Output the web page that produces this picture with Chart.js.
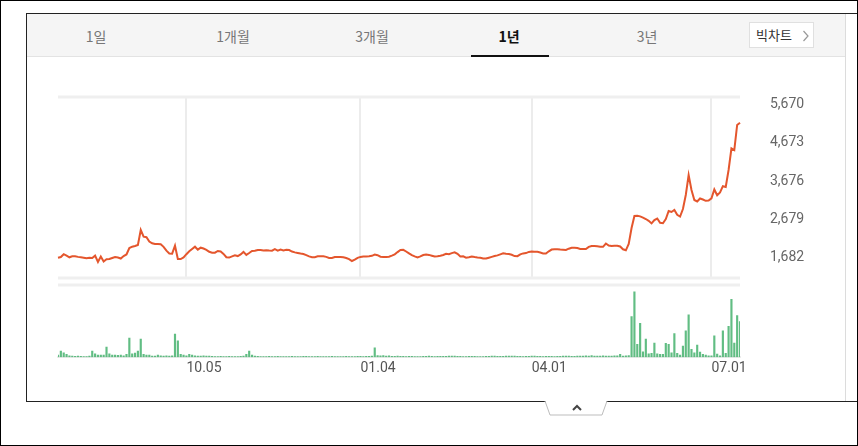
<!DOCTYPE html>
<html>
<head>
<meta charset="utf-8">
<script src="https://cdn.jsdelivr.net/npm/chart.js@4.4.0/dist/chart.umd.min.js"></script>
<style>
  html, body { margin: 0; padding: 0; background: #fff; }
  #wrap { position: relative; width: 858px; height: 446px; overflow: hidden; font-family: "Noto Sans CJK KR", "Noto Sans", sans-serif; }
  .abs { position: absolute; }
  #outer { left: 0; top: 0; width: 858px; height: 446px; box-sizing: border-box; border: 1px solid #000; pointer-events: none; z-index: 5; }
  #panel { left: 26px; top: 13px; width: 832px; height: 389px; box-sizing: border-box; border-top: 1px solid #222; border-left: 1px solid #222; border-bottom: 1px solid #222; }
  #head { left: 27px; top: 14px; width: 818px; height: 42px; background: #f5f5f5; border-bottom: 1px solid #e3e3e3; }
  #rline { left: 845px; top: 14px; width: 1px; height: 387px; background: #dcdcdc; }
  .tab { top: 26px; font-size: 14px; color: #777; transform: translateX(-50%); white-space: nowrap; line-height: 20px; }
  .tab.on { color: #111; font-weight: bold; }
  #bar { left: 471px; top: 55px; width: 78px; height: 2px; background: #111; }
  #big { left: 749px; top: 22px; width: 65px; height: 26px; box-sizing: border-box; background: #fff; border: 1px solid #e0e0e0; font-size: 13px; color: #333; line-height: 24px; padding-left: 6px; }
  #big svg { position: absolute; left: 52px; top: 7px; }
  canvas { position: absolute; }
</style>
</head>
<body>
<div id="wrap">
  <div id="panel" class="abs"></div>
  <div id="head" class="abs"></div>
  <div id="rline" class="abs"></div>
  <div id="tabs"></div>
  <div id="bar" class="abs"></div>
  <div id="big" class="abs">빅차트<svg width="8" height="12"><polyline points="1.5,1 6,6 1.5,11" fill="none" stroke="#999" stroke-width="1.2"/></svg></div>
  <canvas id="price" width="818" height="204" style="left:27px;top:80px;width:818px;height:204px"></canvas>
  <canvas id="volume" width="818" height="110" style="left:27px;top:280px;width:818px;height:110px"></canvas>
  <svg class="abs" style="left:540px;top:400px" width="72" height="18">
    <polygon points="5,0 10,15 62,15 67,0" fill="#fff"/>
    <polyline points="5,1 10,15 62,15 67,1" fill="none" stroke="#bdbdbd" stroke-width="1"/>
    <polyline points="33,10 37,6 41,10" fill="none" stroke="#444" stroke-width="2"/>
  </svg>
  <div id="outer" class="abs"></div>
</div>
<script>
// tabs
const tabNames = ["1일", "1개월", "3개월", "1년", "3년"]
const tabX = [96, 233, 372, 509, 647]
const activeTab = "1년"

// trading days, Jul 28 2020 .. Jul 15 2021 (KRX holidays skipped)
const holidays = ["2020-08-17", "2020-09-30", "2020-10-01", "2020-10-02", "2020-10-09",
  "2020-12-25", "2020-12-31", "2021-01-01", "2021-02-11", "2021-02-12", "2021-03-01",
  "2021-05-05", "2021-05-19"]
const firstDay = "2020-07-28"
const lastDay = "2021-07-15"

const tickDates = ["10.05", "01.04", "04.01", "07.01"]
const priceTicks = [1682, 2679, 3676, 4673, 5670]

// closing price
const prices = [
  1630, 1648, 1721, 1682, 1640, 1666, 1669, 1651, 1640, 1630,
  1614, 1627, 1620, 1682, 1518, 1661, 1531, 1588, 1596, 1622,
  1648, 1635, 1609, 1674, 1713, 1882, 1916, 1934, 1960, 2350,
  2176, 2163, 2051, 2004, 1986, 1986, 1981, 1913, 1812, 1739,
  1734, 1942, 1596, 1596, 1638, 1721, 1796, 1856, 1916, 1838,
  1890, 1869, 1835, 1783, 1760, 1760, 1804, 1791, 1729, 1643,
  1633, 1664, 1692, 1672, 1716, 1781, 1703, 1752, 1804, 1809,
  1830, 1830, 1815, 1825, 1815, 1812, 1851, 1815, 1843, 1820,
  1838, 1828, 1789, 1768, 1752, 1737, 1724, 1698, 1664, 1640,
  1643, 1666, 1666, 1666, 1651, 1625, 1622, 1648, 1648, 1646,
  1640, 1622, 1591, 1544, 1578, 1627, 1651, 1659, 1664, 1669,
  1679, 1711, 1695, 1656, 1648, 1651, 1656, 1685, 1718, 1776,
  1830, 1835, 1791, 1742, 1695, 1664, 1635, 1664, 1698, 1713,
  1703, 1682, 1659, 1669, 1682, 1700, 1731, 1721, 1750,
  1770, 1731, 1659, 1664, 1630, 1640, 1659, 1646, 1635, 1630,
  1609, 1607, 1630, 1651, 1672, 1690, 1716, 1742, 1731, 1724,
  1705, 1672, 1669, 1718, 1742, 1750, 1780, 1788, 1786, 1783,
  1763, 1742, 1737, 1796, 1841, 1851, 1851, 1841, 1835, 1830,
  1864, 1890, 1890, 1882, 1859, 1856, 1856, 1911, 1934, 1934,
  1926, 1913, 1913, 1999, 1947, 1934, 1942, 1942, 1921, 1848,
  1822, 1986, 2402, 2714, 2722, 2704, 2673, 2636, 2589, 2522,
  2608, 2649, 2537, 2527, 2636, 2844, 2818, 2870, 2745, 2701,
  2896, 3260, 3780, 3390, 3130, 3091, 3169, 3143, 3109, 3115,
  3174, 3403, 3252, 3325, 3489, 3468, 3910, 4474, 4430, 5080, 5140
]

// volume (thousand shares)
const volumes = [
  200, 600, 430, 270, 130, 100, 90, 100, 80, 70,
  70, 100, 600, 330, 200, 200, 200, 1000, 330, 200,
  200, 180, 200, 130, 270, 1870, 330, 400, 600, 1770,
  270, 200, 200, 100, 100, 200, 130, 120, 130, 110,
  130, 2270, 1600, 270, 200, 130, 270, 200, 130, 100,
  100, 130, 100, 100, 80, 70, 60, 80, 70, 60,
  80, 70, 60, 70, 80, 100, 270, 600, 200, 100,
  80, 70, 60, 70, 80, 60, 70, 80, 70, 60,
  60, 70, 80, 70, 60, 70, 80, 90, 70, 60,
  70, 80, 70, 60, 60, 70, 80, 70, 60, 70,
  60, 80, 70, 60, 70, 80, 90, 70, 80, 90,
  100, 930, 150, 130, 150, 100, 130, 90, 80, 100,
  90, 80, 70, 80, 90, 70, 60, 70, 80, 90,
  100, 80, 70, 80, 90, 80, 90, 100, 120,
  110, 90, 80, 70, 70, 80, 90, 80, 70, 60,
  70, 80, 90, 100, 110, 90, 80, 90, 100, 120,
  110, 100, 90, 80, 70, 80, 90, 100, 110, 90,
  80, 70, 80, 90, 80, 70, 80, 90, 100, 110,
  100, 90, 80, 100, 120, 110, 130, 120, 150, 110,
  100, 120, 130, 110, 100, 120, 130, 140, 270, 100,
  130, 170, 4000, 6430, 1270, 3330, 530, 1770, 330, 370,
  1400, 330, 270, 270, 1370, 1270, 430, 2330, 370, 200,
  1100, 2600, 4170, 770, 430, 1200, 500, 270, 200, 130,
  130, 2100, 300, 130, 2600, 370, 3030, 5700, 1400, 4100, 3500
]

function tradingDays(from, to, skip) {
  const out = []
  const d = new Date(from + "T00:00:00Z")
  const end = new Date(to + "T00:00:00Z")
  while (d <= end) {
    const iso = d.toISOString().slice(0, 10)
    const wd = d.getUTCDay()
    if (wd !== 0 && wd !== 6 && skip.indexOf(iso) < 0) {
      out.push(iso.slice(5, 7) + "." + iso.slice(8, 10))
    }
    d.setUTCDate(d.getUTCDate() + 1)
  }
  return out
}
const dates = tradingDays(firstDay, lastDay, holidays)

// header tabs
const tabBox = document.getElementById("tabs")
tabNames.forEach(function (t, i) {
  const s = document.createElement("div")
  s.className = "abs tab" + (t === activeTab ? " on" : "")
  s.style.left = tabX[i] + "px"
  s.textContent = t
  tabBox.appendChild(s)
})

// light lines along the top / bottom of a plot area
const edgeLines = {
  id: "edgeLines",
  beforeDatasetsDraw: function (chart, args, opts) {
    const a = chart.chartArea
    const ctx = chart.ctx
    ctx.save()
    ctx.strokeStyle = opts.color || "#eeeeee"
    ;(opts.lines || []).forEach(function (l) {
      const y = l.at === "top" ? a.top : a.bottom
      ctx.lineWidth = l.width
      ctx.beginPath()
      ctx.moveTo(a.left, y)
      ctx.lineTo(a.right, y)
      ctx.stroke()
    })
    ctx.restore()
  }
}

function dateTicks(scale) {
  scale.ticks = tickDates.map(function (d) { return { value: dates.indexOf(d) } })
}

Chart.defaults.font.family = "Roboto, 'Noto Sans', sans-serif"

new Chart(document.getElementById("price"), {
  type: "line",
  data: {
    labels: dates,
    datasets: [{
      data: prices,
      borderColor: "#e4562d",
      borderWidth: 2,
      pointRadius: 0,
      tension: 0,
      fill: false
    }]
  },
  options: {
    responsive: false,
    animation: false,
    layout: { padding: { left: 31, top: 17, right: 0, bottom: 6 } },
    plugins: {
      legend: { display: false },
      tooltip: { enabled: false },
      edgeLines: { color: "#efefef", lines: [{ at: "top", width: 3 }, { at: "bottom", width: 3 }] }
    },
    scales: {
      x: {
        offset: false,
        afterBuildTicks: dateTicks,
        ticks: { display: false, autoSkip: false },
        grid: { color: "#ececec", lineWidth: 2, drawTicks: false, offset: false },
        border: { display: false }
      },
      y: {
        position: "right",
        min: 1102,
        max: 5808,
        afterBuildTicks: function (scale) {
          scale.ticks = priceTicks.map(function (v) { return { value: v } })
        },
        afterFit: function (scale) {
          scale.width = 105
          scale.paddingTop = 0
          scale.paddingBottom = 0
        },
        ticks: {
          padding: 30,
          labelOffset: 2,
          color: "#666",
          font: { size: 14 },
          callback: function (v) { return v.toLocaleString("en-US") }
        },
        grid: { display: false, drawTicks: false },
        border: { display: false }
      }
    }
  },
  plugins: [edgeLines]
})

new Chart(document.getElementById("volume"), {
  type: "bar",
  data: {
    labels: dates,
    datasets: [{
      data: volumes,
      backgroundColor: "rgba(80,182,118,0.9)",
      barThickness: 1.5
    }]
  },
  options: {
    responsive: false,
    animation: false,
    layout: { padding: { left: 31, top: 5, right: 105, bottom: 10 } },
    plugins: {
      legend: { display: false },
      tooltip: { enabled: false },
      edgeLines: { color: "#efefef", lines: [{ at: "top", width: 3 }] }
    },
    scales: {
      x: {
        offset: false,
        afterBuildTicks: dateTicks,
        afterFit: function (scale) {
          scale.paddingLeft = 0
          scale.paddingRight = 0
        },
        ticks: { autoSkip: false, maxRotation: 0, align: "start", padding: 3, color: "#555", font: { size: 14 } },
        grid: { display: false, drawTicks: false },
        border: { display: true, color: "#ececec", width: 2 }
      },
      y: {
        display: false,
        min: 0,
        max: 7100
      }
    }
  },
  plugins: [edgeLines]
})
</script>
</body>
</html>
